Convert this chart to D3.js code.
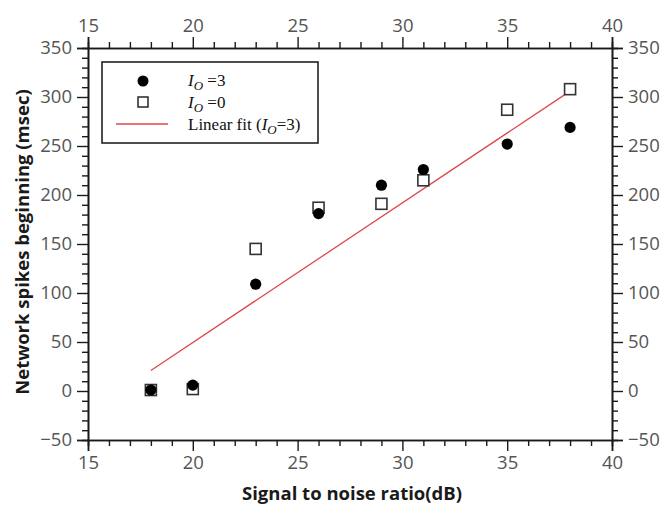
<!DOCTYPE html>
<html><head><meta charset="utf-8">
<script src="https://cdn.jsdelivr.net/npm/d3@7"></script>
<style>body{margin:0;background:#fff}</style>
</head><body>
<svg id="c" width="664" height="509"></svg>
<script>
// ---- data ----
const snr = [18, 20, 23, 26, 29, 31, 35, 38];
const io3 = [1, 6, 109, 181, 210, 226, 252, 269];
const io0 = [1, 2, 145, 187, 191, 215, 287, 308];
const fitX = [18, 38];
const fitY = [21, 306];
const xTicks = [15, 20, 25, 30, 35, 40];
const yTicks = [-50, 0, 50, 100, 150, 200, 250, 300, 350];
const xLabel = "Signal to noise ratio(dB)";
const yLabel = "Network spikes beginning (msec)";

const svg = d3.select("#c");
const L = 88, R = 612, T = 48, B = 440;
const x = d3.scaleLinear().domain([15, 40]).range([L, R]);
const y = d3.scaleLinear().domain([-50, 350]).range([B, T]);

const xMinor = d3.range(15, 40.01, 1).filter(v => v % 5 !== 0);
const yMinor = d3.range(-50, 350.01, 10).filter(v => v % 50 !== 0);

const tickFont = "'Open Sans', 'DejaVu Sans', sans-serif";
function styleAxis(g) {
  g.selectAll("path.domain").attr("stroke", "#1a1a1a").attr("stroke-width", 1.6);
  g.selectAll(".tick line").attr("stroke", "#1a1a1a").attr("stroke-width", 1.4);
  g.selectAll(".tick text").attr("fill", "#555").style("font-family", tickFont).style("font-size", "18.5px");
}
function mk(axisFn, scale, major, minor, pos) {
  const gMin = svg.append("g").attr("transform", pos)
    .call(axisFn(scale).tickValues(minor).tickSize(6).tickFormat(""));
  styleAxis(gMin);
  const gMaj = svg.append("g").attr("transform", pos)
    .call(axisFn(scale).tickValues(major).tickSize(11).tickPadding(5).tickFormat(d3.format("d")));
  styleAxis(gMaj);
  return gMaj;
}
mk(d3.axisTop, x, xTicks, xMinor, `translate(0,${T})`);
mk(d3.axisBottom, x, xTicks, xMinor, `translate(0,${B})`);
mk(d3.axisLeft, y, yTicks, yMinor, `translate(${L},0)`);
mk(d3.axisRight, y, yTicks, yMinor, `translate(${R},0)`);

// axis titles
svg.append("text").attr("x", 352).attr("y", 500).attr("text-anchor", "middle")
  .style("font-family", tickFont).style("font-weight", "bold").style("font-size", "18.5px").attr("fill", "#1a1a1a")
  .text(xLabel);
svg.append("text").attr("transform", `translate(29,${242}) rotate(-90)`).attr("text-anchor", "middle")
  .style("font-family", tickFont).style("font-weight", "bold").style("font-size", "18.5px").attr("fill", "#1a1a1a")
  .text(yLabel);

// fit line
svg.append("line")
  .attr("x1", x(fitX[0])).attr("y1", y(fitY[0])).attr("x2", x(fitX[1])).attr("y2", y(fitY[1]))
  .attr("stroke", "#e04848").attr("stroke-width", 1.3);

// squares (Io=0)
const s = 11;
svg.append("g").selectAll("rect").data(snr).join("rect")
  .attr("x", (d) => x(d) - s / 2).attr("y", (d, i) => y(io0[i]) - s / 2)
  .attr("width", s).attr("height", s).attr("fill", "#fff").attr("stroke", "#333").attr("stroke-width", 1.6);
// circles (Io=3)
svg.append("g").selectAll("circle").data(snr).join("circle")
  .attr("cx", (d) => x(d)).attr("cy", (d, i) => y(io3[i])).attr("r", 5.6).attr("fill", "#000");

// legend
const lg = svg.append("g");
lg.append("rect").attr("x", 102).attr("y", 62).attr("width", 216).attr("height", 81)
  .attr("fill", "#fff").attr("stroke", "#222").attr("stroke-width", 1.6);
lg.append("circle").attr("cx", 143).attr("cy", 81).attr("r", 5.5).attr("fill", "#000");
lg.append("rect").attr("x", 143 - 5).attr("y", 102 - 5).attr("width", 10).attr("height", 10)
  .attr("fill", "#fff").attr("stroke", "#333").attr("stroke-width", 1.6);
lg.append("line").attr("x1", 116).attr("x2", 168).attr("y1", 124).attr("y2", 124)
  .attr("stroke", "#e04848").attr("stroke-width", 1.3);
const serif = "'Liberation Serif', 'Times New Roman', serif";
function ioText(yb, pre, post) {
  const tx = lg.append("text").attr("x", 188).attr("y", yb).style("font-family", serif).style("font-size", "17px").attr("fill", "#111");
  if (pre) tx.append("tspan").text(pre);
  tx.append("tspan").style("font-style", "italic").text("I");
  tx.append("tspan").style("font-style", "italic").style("font-size", "13px").attr("dy", 4).text("O");
  tx.append("tspan").attr("dy", -4).text(post);
}
ioText(86, null, " =3");
ioText(108, null, " =0");
ioText(130, "Linear fit (", "=3)");
</script>
</body></html>
